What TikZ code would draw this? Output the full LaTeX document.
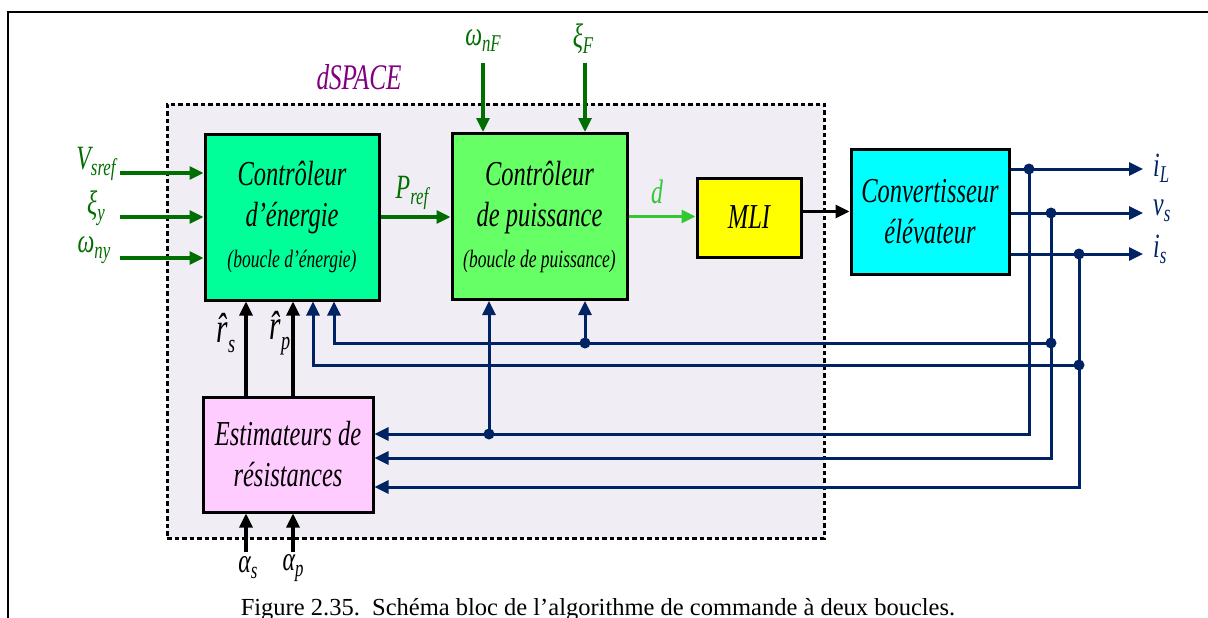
\documentclass[tikz,border=0pt]{standalone}
\usepackage{fontspec}
\setmainfont{Liberation Serif}
\newfontfamily\nar[FakeStretch=0.7]{Liberation Serif}
\usetikzlibrary{arrows.meta}
\definecolor{dgreen}{RGB}{0,110,0}
\definecolor{lgreen}{RGB}{51,200,51}
\definecolor{navy}{RGB}{0,35,100}
\definecolor{cE}{RGB}{0,255,153}
\definecolor{cP}{RGB}{102,255,102}
\definecolor{cM}{RGB}{255,255,0}
\definecolor{cC}{RGB}{0,255,255}
\definecolor{cS}{RGB}{255,204,255}
\definecolor{bgc}{RGB}{240,238,244}
\definecolor{dpurple}{RGB}{128,0,128}
\newcommand\lb[2]{#1\raisebox{-6pt}{\fontsize{24}{24}\selectfont #2}}
\begin{document}
\begin{tikzpicture}[x=1pt,y=-1pt,
  blk/.style={draw=black,line width=3pt,align=center,inner sep=0pt,
    font=\nar\itshape\fontsize{35}{41}\selectfont},
  lab/.style={inner sep=0pt,font=\nar\itshape\fontsize{34}{34}\selectfont},
  tip/.style={-{Triangle[length=14pt,width=13pt]}},
  garrow/.style={draw=dgreen,line width=3.2pt,tip},
  darrow/.style={draw=lgreen,line width=3.2pt,tip},
  karrow/.style={draw=black,line width=3.2pt,tip},
  barrow/.style={draw=navy,line width=3pt,tip},
  jdot/.style={fill=navy,circle,inner sep=0pt,minimum size=11pt}]
\useasboundingbox (0,0) rectangle (1208,618);
% outer frame
\draw[line width=2.8pt] (8,618) -- (8,12) -- (1208,12);
% dSPACE area
\node[draw=black,line width=3pt,dash pattern=on 4.5pt off 3pt,fill=bgc,
  minimum width=657pt,minimum height=434pt,inner sep=0pt] (dsp) at (495.5,321) {};
\node[lab,text=dpurple,font=\nar\itshape\fontsize{36}{36}\selectfont] (dlab) at (359,77) {dSPACE};
% blocks
\node[blk,fill=cE,minimum width=174pt,minimum height=166pt] (E) at (292,217)
  {Contrôleur\\d’énergie\\{\fontsize{25}{41}\selectfont(boucle d’énergie)}};
\node[blk,fill=cP,minimum width=175pt,minimum height=166pt] (P) at (539.5,216.5)
  {Contrôleur\\de puissance\\{\fontsize{25}{41}\selectfont(boucle de puissance)}};
\node[blk,fill=cM,minimum width=104pt,minimum height=79pt] (M) at (749,217.5) {MLI};
\node[blk,fill=cC,minimum width=158pt,minimum height=125pt] (C) at (930,211.5)
  {Convertisseur\\élévateur};
\node[blk,fill=cS,minimum width=170pt,minimum height=115pt] (S) at (288,454.5)
  {Estimateurs de\\résistances};
% inputs of energy controller
\coordinate (aV) at (120,173);
\coordinate (aX) at (120,217);
\coordinate (aW) at (120,258);
\draw[garrow] (aV) -- (aV -| E.west);
\draw[garrow] (aX) -- (aX -| E.west);
\draw[garrow] (aW) -- (aW -| E.west);
\node[lab,text=dgreen] (lV) at (96,164) {\lb{V}{sref}};
\node[lab,text=dgreen] (lX) at (96,208) {\lb{ξ}{y}};
\node[lab,text=dgreen] (lW) at (94,250) {\lb{ω}{ny}};
% inputs of power controller
\coordinate (aWF) at (483,63);
\coordinate (aXF) at (585,63);
\draw[garrow] (aWF) -- (aWF |- P.north);
\draw[garrow] (aXF) -- (aXF |- P.north);
\node[lab,text=dgreen] (lWF) at (483,41) {\lb{ω}{nF}};
\node[lab,text=dgreen] (lXF) at (583,39) {\lb{ξ}{F}};
% forward path
\draw[garrow] (E.east) -- (E.east -| P.west);
\node[lab,text=dgreen] (lP) at (412,193) {\lb{P}{ref}};
\draw[darrow] (P.east) -- (P.east -| M.west);
\node[lab,text=lgreen] (ld) at (657,192) {d};
\draw[karrow] (C.west -| M.east) -- (C.west);
% outputs
\coordinate (oL) at (1143,169);
\coordinate (ov) at (1143,213);
\coordinate (oi) at (1143,254);
\draw[barrow] (oL -| C.east) -- (oL);
\draw[barrow] (ov -| C.east) -- (ov);
\draw[barrow] (oi -| C.east) -- (oi);
\node[lab,text=navy,anchor=west] (liL) at (1153,168) {\lb{i}{L}};
\node[lab,text=navy,anchor=west] (lvs) at (1153,211) {\lb{v}{s}};
\node[lab,text=navy,anchor=west] (lis) at (1153,249) {\lb{i}{s}};
% feedback junctions
\coordinate (jL) at (1029,169);
\coordinate (jv) at (1051,213);
\coordinate (ji) at (1079,254);
\coordinate (cL) at (1029,434);
\coordinate (cv) at (1051,458);
\coordinate (ci) at (1079,487);
\draw[barrow] (jL) -- (cL) -- (cL -| S.east);
\draw[barrow] (jv) -- (cv) -- (cv -| S.east);
\draw[barrow] (ji) -- (ci) -- (ci -| S.east);
\coordinate (fv) at (1051,343);
\coordinate (fvE) at (334,343);
\coordinate (fi) at (1079,365);
\coordinate (fiE) at (313,365);
\draw[barrow] (fv) -- (fvE) -- (fvE |- E.south);
\draw[barrow] (fi) -- (fiE) -- (fiE |- E.south);
\coordinate (dP1) at (585,343);
\coordinate (dP2) at (489,434);
\draw[barrow] (dP1) -- (dP1 |- P.south);
\draw[barrow] (dP2) -- (dP2 |- P.south);
\foreach \p in {jL,jv,ji,fv,fi,dP1,dP2} \node[jdot] at (\p) {};
% estimator outputs and inputs
\coordinate (rs) at (246,552);
\coordinate (rp) at (293,552);
\draw[karrow] (rs |- S.north) -- (rs |- E.south);
\draw[karrow] (rp |- S.north) -- (rp |- E.south);
\draw[karrow] (rs) -- (rs |- S.south);
\draw[karrow] (rp) -- (rp |- S.south);
\node[lab,font=\nar\itshape\fontsize{42}{42}\selectfont] (lrs) at (226,333) {\lb{\^{r}}{\raisebox{-4pt}{\fontsize{26}{26}\selectfont s}}};
\node[lab,font=\nar\itshape\fontsize{42}{42}\selectfont] (lrp) at (280,333) {\lb{\^{r}}{\raisebox{-4pt}{\fontsize{26}{26}\selectfont p}}};
\node[lab] (las) at (248,568) {\lb{α}{s}};
\node[lab] (lap) at (293,568) {\lb{α}{p}};
% caption
\node[anchor=base,inner sep=0pt,font=\fontsize{24.5}{24.5}\selectfont] (cap) at (598,615)
  {Figure 2.35.\ \ Schéma bloc de l’algorithme de commande à deux boucles.};
\end{tikzpicture}
\end{document}
